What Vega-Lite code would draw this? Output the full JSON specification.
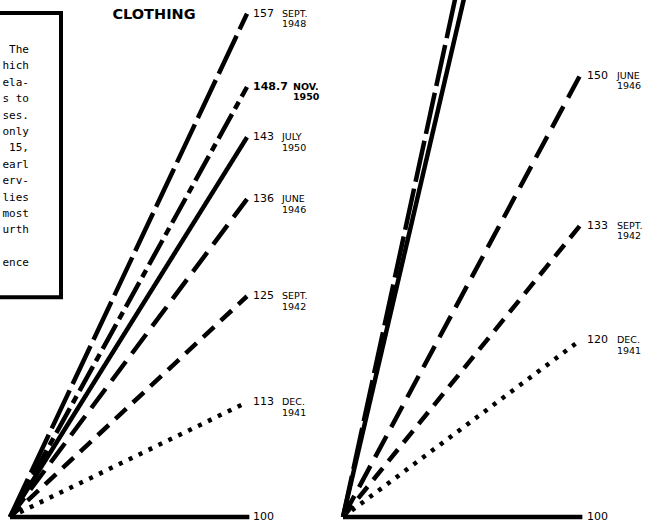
{
  "$schema": "https://vega.github.io/schema/vega-lite/v6.json",
  "padding": 0,
  "background": "white",
  "spacing": 0,
  "config": {"view": {"stroke": null}, "concat": {"spacing": 0}},
  "datasets": {
    "lines": [
      {"panel": "L", "series": "SEPT. 1948", "t": 0, "v": 100}, {"panel": "L", "series": "SEPT. 1948", "t": 1, "v": 157},
      {"panel": "L", "series": "NOV. 1950", "t": 0, "v": 100}, {"panel": "L", "series": "NOV. 1950", "t": 1, "v": 148.7},
      {"panel": "L", "series": "JULY 1950", "t": 0, "v": 100}, {"panel": "L", "series": "JULY 1950", "t": 1, "v": 143},
      {"panel": "L", "series": "JUNE 1946", "t": 0, "v": 100}, {"panel": "L", "series": "JUNE 1946", "t": 1, "v": 136},
      {"panel": "L", "series": "SEPT. 1942", "t": 0, "v": 100}, {"panel": "L", "series": "SEPT. 1942", "t": 1, "v": 125},
      {"panel": "L", "series": "DEC. 1941", "t": 0, "v": 100}, {"panel": "L", "series": "DEC. 1941", "t": 1, "v": 113},
      {"panel": "L", "series": "BASE", "t": 0, "v": 100}, {"panel": "L", "series": "BASE", "t": 1.01, "v": 100},
      {"panel": "R", "series": "SEPT. 1948", "t": 0, "v": 100}, {"panel": "R", "series": "SEPT. 1948", "t": 1, "v": 224},
      {"panel": "R", "series": "JULY 1950", "t": 0, "v": 100}, {"panel": "R", "series": "JULY 1950", "t": 1, "v": 215},
      {"panel": "R", "series": "JUNE 1946", "t": 0, "v": 100}, {"panel": "R", "series": "JUNE 1946", "t": 1, "v": 150},
      {"panel": "R", "series": "SEPT. 1942", "t": 0, "v": 100}, {"panel": "R", "series": "SEPT. 1942", "t": 1, "v": 133},
      {"panel": "R", "series": "DEC. 1941", "t": 0, "v": 100}, {"panel": "R", "series": "DEC. 1941", "t": 1, "v": 120},
      {"panel": "R", "series": "BASE", "t": 0, "v": 100}, {"panel": "R", "series": "BASE", "t": 1.01, "v": 100}
    ],
    "labels": [
      {"panel": "L", "num": "157", "dt": ["SEPT.", "1948"], "v": 157},
      {"panel": "L", "num": "148.7", "dt": ["NOV.", "1950"], "v": 148.7},
      {"panel": "L", "num": "143", "dt": ["JULY", "1950"], "v": 143},
      {"panel": "L", "num": "136", "dt": ["JUNE", "1946"], "v": 136},
      {"panel": "L", "num": "125", "dt": ["SEPT.", "1942"], "v": 125},
      {"panel": "L", "num": "113", "dt": ["DEC.", "1941"], "v": 113},
      {"panel": "L", "num": "100", "dt": ["", ""], "v": 100},
      {"panel": "R", "num": "150", "dt": ["JUNE", "1946"], "v": 150},
      {"panel": "R", "num": "133", "dt": ["SEPT.", "1942"], "v": 133},
      {"panel": "R", "num": "120", "dt": ["DEC.", "1941"], "v": 120},
      {"panel": "R", "num": "100", "dt": ["", ""], "v": 100}
    ],
    "note": [
      {"txt": "The", "v": 152.89},
      {"txt": "hich", "v": 151.03},
      {"txt": "ela-", "v": 149.17},
      {"txt": "s to", "v": 147.32},
      {"txt": "ses.", "v": 145.46},
      {"txt": "only", "v": 143.60},
      {"txt": "15,", "v": 141.74},
      {"txt": "earl", "v": 139.89},
      {"txt": "erv-", "v": 138.03},
      {"txt": "lies", "v": 136.17},
      {"txt": "most", "v": 134.31},
      {"txt": "urth", "v": 132.46},
      {"txt": "ence", "v": 128.74}
    ]
  },
  "hconcat": [
    {
      "width": 333,
      "height": 527,
      "layer": [
        {
          "data": {"values": [{}]},
          "mark": {"type": "rect", "fillOpacity": 0, "stroke": "black", "strokeWidth": 4, "clip": true},
          "encoding": {
            "x": {"datum": -0.3, "type": "quantitative", "scale": {"domain": [-0.0422, 1.3629]}, "axis": null},
            "x2": {"datum": 0.2152},
            "y": {"datum": 157.08, "type": "quantitative", "scale": {"domain": [98.87, 158.55]}, "axis": null},
            "y2": {"datum": 124.9}
          }
        },
        {
          "data": {"name": "note"},
          "mark": {"type": "text", "align": "right", "baseline": "middle", "font": "DejaVu Sans Mono", "fontSize": 11, "color": "black"},
          "encoding": {
            "x": {"datum": 0.08, "type": "quantitative", "scale": {"domain": [-0.0422, 1.3629]}, "axis": null},
            "y": {"field": "v", "type": "quantitative", "scale": {"domain": [98.87, 158.55]}, "axis": null},
            "text": {"field": "txt"}
          }
        },
        {
          "data": {"values": [{}]},
          "mark": {"type": "text", "align": "center", "baseline": "middle", "font": "DejaVu Sans", "fontWeight": "bold", "fontSize": 14.5, "color": "black"},
          "encoding": {
            "x": {"datum": 0.6076, "type": "quantitative", "scale": {"domain": [-0.0422, 1.3629]}, "axis": null},
            "y": {"datum": 156.85, "type": "quantitative", "scale": {"domain": [98.87, 158.55]}, "axis": null},
            "text": {"value": "CLOTHING"}
          }
        },
        {
          "data": {"name": "lines"},
          "transform": [{"filter": "datum.panel === 'L'"}],
          "mark": {"type": "line", "strokeWidth": 4.5, "strokeCap": "butt", "clip": true, "color": "black"},
          "encoding": {
            "x": {"field": "t", "type": "quantitative", "scale": {"domain": [-0.0422, 1.3629]}, "axis": null},
            "y": {"field": "v", "type": "quantitative", "scale": {"domain": [98.87, 158.55]}, "axis": null},
            "detail": {"field": "series"},
            "strokeDash": {"field": "series", "type": "nominal", "legend": null,
              "scale": {"domain": ["SEPT. 1948", "NOV. 1950", "JULY 1950", "JUNE 1946", "SEPT. 1942", "DEC. 1941", "BASE"],
                        "range": [[42, 7], [28, 6, 8, 6], [1, 0], [24, 10], [15, 9], [4, 7], [1, 0]]}}
          }
        },
        {
          "data": {"name": "labels"},
          "transform": [{"filter": "datum.panel === 'L' && datum.num !== '148.7'"}],
          "mark": {"type": "text", "align": "left", "baseline": "middle", "dx": 6, "font": "DejaVu Sans", "fontSize": 11, "color": "black"},
          "encoding": {
            "x": {"datum": 1, "type": "quantitative", "scale": {"domain": [-0.0422, 1.3629]}, "axis": null},
            "y": {"field": "v", "type": "quantitative", "scale": {"domain": [98.87, 158.55]}, "axis": null},
            "text": {"field": "num"}
          }
        },
        {
          "data": {"name": "labels"},
          "transform": [{"filter": "datum.panel === 'L' && datum.num !== '148.7'"}],
          "mark": {"type": "text", "align": "left", "baseline": "middle", "dx": 35, "font": "DejaVu Sans", "fontSize": 9.5, "lineHeight": 10.5, "color": "black"},
          "encoding": {
            "x": {"datum": 1, "type": "quantitative", "scale": {"domain": [-0.0422, 1.3629]}, "axis": null},
            "y": {"field": "v", "type": "quantitative", "scale": {"domain": [98.87, 158.55]}, "axis": null},
            "text": {"field": "dt"}
          }
        },
        {
          "data": {"name": "labels"},
          "transform": [{"filter": "datum.panel === 'L' && datum.num === '148.7'"}],
          "mark": {"type": "text", "align": "left", "baseline": "middle", "dx": 6, "font": "DejaVu Sans", "fontWeight": "bold", "fontSize": 11, "color": "black"},
          "encoding": {
            "x": {"datum": 1, "type": "quantitative", "scale": {"domain": [-0.0422, 1.3629]}, "axis": null},
            "y": {"field": "v", "type": "quantitative", "scale": {"domain": [98.87, 158.55]}, "axis": null},
            "text": {"field": "num"}
          }
        },
        {
          "data": {"name": "labels"},
          "transform": [{"filter": "datum.panel === 'L' && datum.num === '148.7'"}],
          "mark": {"type": "text", "align": "left", "baseline": "middle", "dx": 46, "font": "DejaVu Sans", "fontWeight": "bold", "fontSize": 9.5, "lineHeight": 10.5, "color": "black"},
          "encoding": {
            "x": {"datum": 1, "type": "quantitative", "scale": {"domain": [-0.0422, 1.3629]}, "axis": null},
            "y": {"field": "v", "type": "quantitative", "scale": {"domain": [98.87, 158.55]}, "axis": null},
            "text": {"field": "dt"}
          }
        }
      ]
    },
    {
      "width": 327,
      "height": 527,
      "layer": [
        {
          "data": {"name": "lines"},
          "transform": [{"filter": "datum.panel === 'R'"}],
          "mark": {"type": "line", "strokeWidth": 4.5, "strokeCap": "butt", "clip": true, "color": "black"},
          "encoding": {
            "x": {"field": "t", "type": "quantitative", "scale": {"domain": [-0.0422, 1.3376]}, "axis": null},
            "y": {"field": "v", "type": "quantitative", "scale": {"domain": [98.87, 158.55]}, "axis": null},
            "detail": {"field": "series"},
            "strokeDash": {"field": "series", "type": "nominal", "legend": null,
              "scale": {"domain": ["SEPT. 1948", "NOV. 1950", "JULY 1950", "JUNE 1946", "SEPT. 1942", "DEC. 1941", "BASE"],
                        "range": [[48, 6], [28, 6, 8, 6], [1, 0], [24, 11], [15, 9], [4, 7], [1, 0]]}}
          }
        },
        {
          "data": {"name": "labels"},
          "transform": [{"filter": "datum.panel === 'R'"}],
          "mark": {"type": "text", "align": "left", "baseline": "middle", "dx": 7, "font": "DejaVu Sans", "fontSize": 11, "color": "black"},
          "encoding": {
            "x": {"datum": 1, "type": "quantitative", "scale": {"domain": [-0.0422, 1.3376]}, "axis": null},
            "y": {"field": "v", "type": "quantitative", "scale": {"domain": [98.87, 158.55]}, "axis": null},
            "text": {"field": "num"}
          }
        },
        {
          "data": {"name": "labels"},
          "transform": [{"filter": "datum.panel === 'R'"}],
          "mark": {"type": "text", "align": "left", "baseline": "middle", "dx": 37, "font": "DejaVu Sans", "fontSize": 9.5, "lineHeight": 10.5, "color": "black"},
          "encoding": {
            "x": {"datum": 1, "type": "quantitative", "scale": {"domain": [-0.0422, 1.3376]}, "axis": null},
            "y": {"field": "v", "type": "quantitative", "scale": {"domain": [98.87, 158.55]}, "axis": null},
            "text": {"field": "dt"}
          }
        }
      ]
    }
  ]
}
